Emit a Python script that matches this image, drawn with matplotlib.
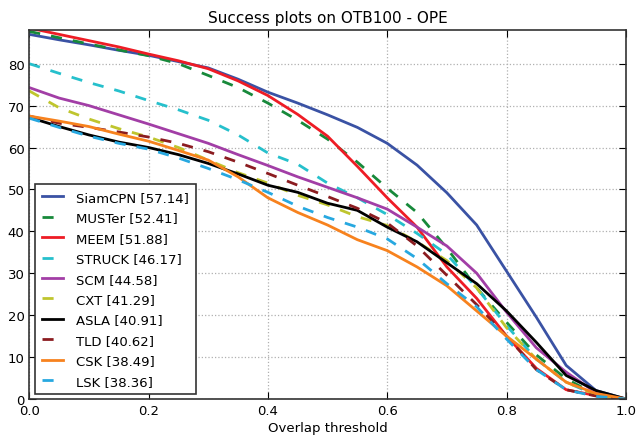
import numpy as np
import matplotlib
matplotlib.use('Agg')
import matplotlib.pyplot as plt

thresholds = np.linspace(0, 1, 21)

names = ['SiamCPN', 'MUSTer', 'MEEM', 'STRUCK', 'SCM', 'CXT', 'ASLA', 'TLD', 'CSK', 'LSK']
scores = [57.14, 52.41, 51.88, 46.17, 44.58, 41.29, 40.91, 40.62, 38.49, 38.36]

siamcpn = [87, 85.7, 84.5, 83.2, 82, 80.5, 79, 76.3, 73.2, 70.6, 67.8, 64.8, 61, 55.8, 49.2, 41.5, 30.5, 19.5, 8, 2, 0]
muster = [87.7, 86.2, 84.7, 83.3, 81.9, 80, 77.2, 74.3, 70.6, 66.5, 62, 56.5, 50.3, 44.5, 36, 26.5, 18.3, 10.5, 4.8, 1, 0]
meem = [88.5, 87, 85.5, 84, 82.3, 80.7, 78.8, 75.9, 72.4, 67.9, 62.7, 55.5, 48, 41, 31.5, 24, 15, 7.3, 2.2, 0.8, 0]
struck = [80, 77.7, 75.5, 73.5, 71.2, 69, 66.5, 63, 58.7, 56, 51.5, 48, 44, 39.5, 34.5, 26.5, 17.5, 9.5, 4, 0.9, 0]
scm = [74.3, 71.8, 70, 67.8, 65.6, 63.3, 61, 58.3, 55.7, 53, 50.5, 48, 45.3, 41, 36.5, 30, 20.7, 12.2, 6.4, 1.5, 0]
cxt = [73.5, 69.5, 66.8, 64.5, 62.5, 60, 57, 54, 51.5, 48.6, 46.3, 43.5, 41.4, 37.5, 33, 26.5, 17, 9.5, 4, 1, 0]
asla = [67.2, 65, 63, 61.3, 60, 58.3, 56.2, 53.7, 51, 49.3, 46.7, 45, 41, 37.5, 32.5, 27.5, 21, 13.5, 5.6, 2, 0]
tld = [67.5, 65.8, 64.8, 63.7, 62.5, 61, 59, 56.5, 53.8, 51, 48.3, 45.5, 42, 36.5, 29.5, 22.5, 15, 7, 2.2, 0.7, 0]
csk = [67.5, 66.3, 65, 63.2, 61.5, 59.3, 57, 53, 48, 44.5, 41.5, 38, 35.4, 31.5, 27, 21, 15, 9.5, 4, 1.3, 0]
lsk = [67, 64.8, 62.7, 61, 59.6, 57.5, 55, 52.3, 49.3, 46, 43.3, 41, 38.2, 33.5, 27.5, 22, 14.3, 7, 2.2, 0.6, 0]

curves = [siamcpn, muster, meem, struck, scm, cxt, asla, tld, csk, lsk]
colors = ['#3a52a4', '#17893a', '#ee1c25', '#26c0cc', '#a23ea6',
          '#bfc52e', '#000000', '#8b1c20', '#f7821e', '#27a8e0']
styles = ['-', '--', '-', '--', '-', '--', '-', '--', '-', '--']

fig = plt.figure(figsize=(6.36, 4.39), dpi=100)
ax = fig.add_axes([0.046, 0.089, 0.938, 0.84])

for name, score, y, c, ls in zip(names, scores, curves, colors, styles):
    ax.plot(thresholds, y, color=c, linestyle=ls, linewidth=2,
            dashes=(4, 4) if ls == '--' else (None, None),
            label='{} [{:.2f}]'.format(name, score))

ax.set_xlim(0, 1)
ax.set_ylim(0, 88)
ax.set_yticks(np.arange(0, 81, 10))
ax.set_xticks(np.arange(0, 1.01, 0.2))
ax.set_xticklabels(['0.0', '0.2', '0.4', '0.6', '0.8', '1.0'])
ax.tick_params(direction='in', top=True, right=True, labelsize=9.5, length=5)
ax.grid(True, linestyle=':', color='#b0b0b0', linewidth=0.9)
for s in ax.spines.values():
    s.set_color('#333333')
    s.set_linewidth(1.2)

ax.set_title('Success plots on OTB100 - OPE', fontsize=11)
ax.set_xlabel('Overlap threshold', fontsize=9.5, labelpad=3)

leg = ax.legend(loc='lower left', fontsize=9.5, fancybox=False, framealpha=1,
                edgecolor='#333333', handlelength=1.6, handletextpad=1.0,
                labelspacing=0.56, borderpad=0.5, borderaxespad=0,
                bbox_to_anchor=(0.01, 0.013))
leg.get_frame().set_linewidth(1.2)

fig.savefig('out.png', dpi=100)
